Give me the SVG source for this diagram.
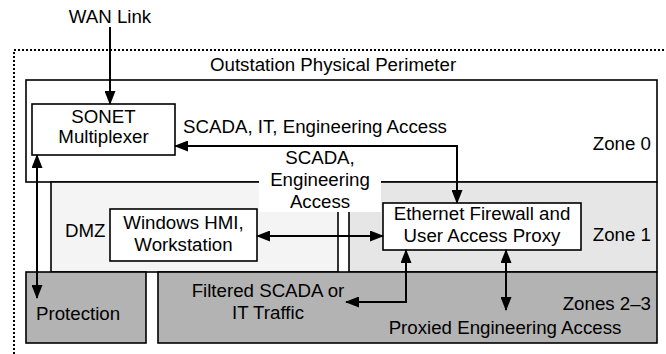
<svg xmlns="http://www.w3.org/2000/svg" width="666" height="354" viewBox="0 0 666 354">
  <style>
    text { font-family: "Liberation Sans", Arial, sans-serif; font-size: 18.7px; fill: #000; }
    .mid { text-anchor: middle; }
    .end { text-anchor: end; }
    .zone { stroke: #000; stroke-width: 1.6; }
    .box { fill: #fff; stroke: #000; stroke-width: 1.6; }
    .conn { fill: none; stroke: #000; stroke-width: 2; }
  </style>
  <defs>
    <marker id="arrow" markerUnits="userSpaceOnUse" markerWidth="14" markerHeight="11" refX="13" refY="5.5" orient="auto-start-reverse">
      <path d="M0,0 L14,5.5 L0,11 z" fill="#000"/>
    </marker>
  </defs>

  <rect width="666" height="354" fill="#fff"/>

  <!-- physical perimeter (dotted) -->
  <g id="perimeter">
    <path d="M14,354 V50 H666" fill="none" stroke="#000" stroke-width="2" stroke-dasharray="2,2"/>
    <text x="210" y="71">Outstation Physical Perimeter</text>
  </g>

  <!-- zones -->
  <g id="zone0">
    <rect class="zone" x="26" y="80" width="631" height="102" fill="#fff"/>
    <text class="end" x="651" y="150">Zone 0</text>
  </g>
  <g id="dmz">
    <rect class="zone" x="51" y="182" width="287" height="90" fill="#f4f4f4"/>
    <text x="65" y="237">DMZ</text>
  </g>
  <g id="zone1">
    <rect class="zone" x="349" y="182" width="308" height="90" fill="#e6e6e6"/>
    <text class="end" x="651" y="241">Zone 1</text>
  </g>
  <g id="protection">
    <rect class="zone" x="26" y="272" width="120" height="71" fill="#b3b3b3"/>
    <text x="36" y="320">Protection</text>
  </g>
  <g id="zones23">
    <rect class="zone" x="158" y="272" width="499" height="71" fill="#b3b3b3"/>
    <text class="end" x="651" y="310">Zones 2–3</text>
    <text class="mid" x="505" y="334">Proxied Engineering Access</text>
  </g>

  <!-- label spanning zone 0 / zone 1 -->
  <g id="scada-eng-label">
    <rect x="259" y="150" width="122" height="62" fill="#fff"/>
    <text class="mid" x="320" y="164">SCADA,</text>
    <text class="mid" x="320" y="186">Engineering</text>
    <text class="mid" x="320" y="208">Access</text>
  </g>

  <!-- nodes -->
  <g id="wan">
    <text class="mid" x="110" y="23">WAN Link</text>
  </g>
  <g id="sonet">
    <rect class="box" x="32" y="104" width="143" height="51"/>
    <text class="mid" x="103.5" y="123">SONET</text>
    <text class="mid" x="103.5" y="143">Multiplexer</text>
  </g>
  <g id="hmi">
    <rect class="box" x="110" y="209" width="147" height="52"/>
    <text class="mid" x="183.5" y="229">Windows HMI,</text>
    <text class="mid" x="183.5" y="251">Workstation</text>
  </g>
  <g id="firewall">
    <rect class="box" x="383" y="203" width="198" height="47"/>
    <text class="mid" x="482" y="220">Ethernet Firewall and</text>
    <text class="mid" x="482" y="242">User Access Proxy</text>
  </g>
  <g id="filtered-label">
    <text class="mid" x="268" y="297">Filtered SCADA or</text>
    <text class="mid" x="268" y="319">IT Traffic</text>
  </g>

  <!-- connectors -->
  <g id="connectors">
    <path class="conn" d="M110,27 V104" marker-end="url(#arrow)"/>
    <path class="conn" d="M175,146 H457 V203" marker-start="url(#arrow)" marker-end="url(#arrow)"/>
    <text x="183" y="133">SCADA, IT, Engineering Access</text>
    <path class="conn" d="M257,236 H383" marker-start="url(#arrow)" marker-end="url(#arrow)"/>
    <path class="conn" d="M37,155 V298" marker-start="url(#arrow)" marker-end="url(#arrow)"/>
    <path class="conn" d="M406,250 V302 H346" marker-start="url(#arrow)" marker-end="url(#arrow)"/>
    <path class="conn" d="M506,250 V310" marker-start="url(#arrow)" marker-end="url(#arrow)"/>
  </g>
</svg>
